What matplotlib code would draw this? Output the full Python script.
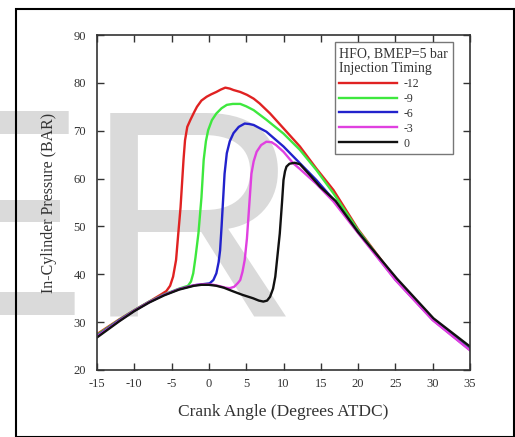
import matplotlib
matplotlib.use('Agg')
from matplotlib import pyplot as plt
from matplotlib.patches import Rectangle

# crank angle / pressure points for each injection timing
x_m12 = [-15, -12, -10, -8, -6.5, -5.7, -5.2, -4.8, -4.4, -4.1, -3.8, -3.6, -3.4, -3.2, -2.9, -2.5, -2.0, -1.6, -1.0, -0.3, 0.3, 1.0, 1.6, 2.2, 2.8, 3.3, 4.2, 5.1, 6.0, 6.8, 8.2, 10, 12.2, 14.4, 16.7, 20, 25, 30, 35]
y_m12 = [27.5, 30.6, 32.5, 34.3, 35.7, 36.5, 37.6, 39.5, 43.0, 48.6, 54.0, 59.0, 64.0, 68.0, 70.8, 72.2, 73.8, 75.0, 76.3, 77.1, 77.6, 78.1, 78.6, 79.0, 78.8, 78.5, 78.1, 77.5, 76.7, 75.7, 73.6, 70.5, 66.7, 62.1, 57.6, 49.4, 39.1, 30.7, 24.3]

x_m9 = [-15, -12, -10, -8, -6, -4, -2.8, -2.4, -2.1, -1.8, -1.4, -1.0, -0.7, -0.4, -0.1, 0.4, 1.0, 1.7, 2.4, 3.2, 4.2, 5.0, 6.0, 7.7, 10, 12.2, 14.4, 16.7, 20, 25, 30, 35]
y_m9 = [27.3, 30.5, 32.5, 34.3, 35.8, 37.0, 37.6, 38.5, 40.2, 43.5, 48.6, 56.0, 63.9, 67.8, 70.1, 72.2, 73.6, 74.7, 75.4, 75.6, 75.6, 75.1, 74.3, 72.3, 69.4, 66.0, 61.8, 56.9, 49.2, 39.0, 30.6, 24.3]

x_m6 = [-15, -12, -10, -8, -6, -4, -2, -1, 0.1, 0.6, 1.0, 1.3, 1.5, 1.7, 1.9, 2.1, 2.4, 2.8, 3.3, 4.0, 4.8, 5.4, 6.0, 7.7, 10, 12.2, 14.4, 16.7, 20, 25, 30, 35]
y_m6 = [27.1, 30.4, 32.4, 34.2, 35.7, 36.9, 37.7, 37.9, 38.1, 38.8, 40.2, 42.5, 45.0, 50.0, 55.5, 61.0, 65.3, 67.8, 69.5, 70.8, 71.5, 71.4, 71.2, 69.8, 66.7, 63.2, 59.7, 55.6, 48.8, 38.9, 30.5, 24.2]

x_m3 = [-15, -12, -10, -8, -6, -4, -2, -1, 0.0, 0.6, 1.5, 2.2, 2.8, 3.4, 3.9, 4.2, 4.5, 4.8, 5.1, 5.3, 5.5, 5.7, 6.0, 6.4, 7.0, 7.7, 8.4, 9.0, 10, 11.3, 12.2, 14.4, 16.7, 20, 25, 30, 35]
y_m3 = [27.0, 30.3, 32.4, 34.2, 35.7, 36.9, 37.7, 37.9, 37.9, 37.8, 37.5, 37.2, 37.1, 37.4, 38.2, 38.8, 40.5, 43.0, 47.5, 52.0, 56.5, 61.0, 63.6, 65.6, 67.0, 67.7, 67.6, 67.0, 65.6, 63.2, 62.0, 58.9, 55.2, 48.6, 38.8, 30.4, 24.1]

x_0 = [-15, -12, -10, -8, -6, -4, -2, -1, 0.0, 1.0, 2.0, 3.3, 4.5, 5.9, 6.7, 7.3, 7.8, 8.2, 8.6, 8.9, 9.2, 9.5, 9.8, 10.0, 10.2, 10.4, 10.8, 11.5, 12.2, 13.5, 14.9, 17, 20, 25.2, 30.1, 35]
y_0 = [26.8, 30.2, 32.3, 34.1, 35.6, 36.8, 37.6, 37.8, 37.8, 37.6, 37.2, 36.4, 35.7, 35.0, 34.5, 34.3, 34.5, 35.3, 37.0, 39.5, 44.0, 48.5, 55.0, 59.7, 61.5, 62.5, 63.1, 63.3, 63.0, 60.8, 58.3, 55.3, 48.8, 39.1, 30.8, 24.9]

labels = ['-12', '-9', '-6', '-3', '0']
colors = ['#e02222', '#3ee83e', '#2222cc', '#e040e0', '#111111']

plt.rcParams['font.family'] = ['Liberation Serif', 'DejaVu Serif']
plt.rcParams['axes.unicode_minus'] = False

fig = plt.figure(figsize=(5.15, 4.37), dpi=100)
W, H = 515.0, 437.0

# outer frame
fig.patches.append(Rectangle((16 / W, 0), (514 - 16) / W, (437 - 9) / H,
                             transform=fig.transFigure, fill=False,
                             edgecolor='black', linewidth=1.5, zorder=0))

# light watermark letters behind the axes
fig.text(-110 / W, 1 - 315 / H, 'E', fontsize=213, color='#dadada',
         family='Liberation Sans', ha='left', va='baseline', zorder=-1)
fig.text(86 / W, 1 - 315 / H, 'R', fontsize=213, color='#dadada',
         family='Liberation Sans', ha='left', va='baseline', zorder=-1)

ax = fig.add_axes([97 / W, 1 - 370 / H, (470 - 97) / W, (370 - 35) / H])
ax.patch.set_alpha(0)

series = [(x_m12, y_m12), (x_m9, y_m9), (x_m6, y_m6), (x_m3, y_m3), (x_0, y_0)]
for (xs, ys), lab, c in zip(series, labels, colors):
    ax.plot(xs, ys, color=c, linewidth=1.7, label=lab)

ax.set_xlim(-15, 35)
ax.set_ylim(20, 90)
ax.set_xticks(range(-15, 36, 5))
ax.set_yticks(range(20, 91, 10))
ax.tick_params(direction='in', top=True, right=True, length=5, width=1,
               labelsize=9, colors='#333333', labelcolor='#333333')
ax.tick_params(axis='x', pad=6)
ax.tick_params(axis='y', pad=8)
for sp in ax.spines.values():
    sp.set_color('#333333')
    sp.set_linewidth(1.2)

ax.set_xlabel('Crank Angle (Degrees ATDC)', fontsize=12.5, color='#333333', labelpad=10)
ax.set_ylabel('In-Cylinder Pressure (BAR)', fontsize=11.5, color='#333333', labelpad=12)

leg = ax.legend(title='HFO, BMEP=5 bar\nInjection Timing', loc='upper right',
                bbox_to_anchor=(0.954, 0.979), borderaxespad=0,
                fontsize=8.5, title_fontsize=10,
                frameon=True, fancybox=False, edgecolor='#555555',
                handlelength=4.9, handletextpad=0.5, labelspacing=0.25,
                borderpad=0.4)
leg.get_frame().set_linewidth(1.0)
leg._legend_box.align = 'left'
for t in leg.get_texts():
    t.set_color('#333333')
leg.get_title().set_color('#333333')

fig.savefig('out.png', dpi=100)
